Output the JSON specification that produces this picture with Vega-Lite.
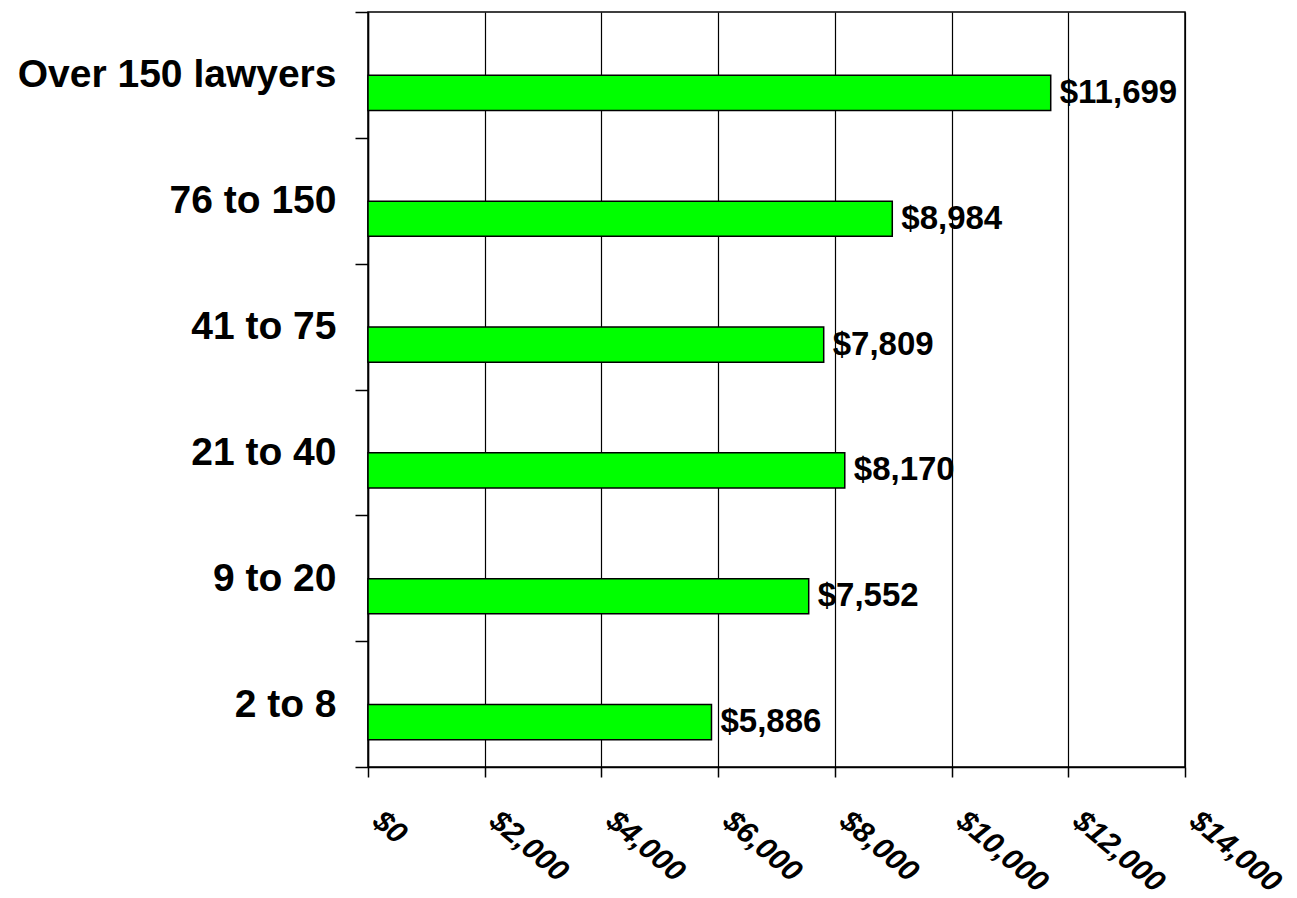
{
  "$schema": "https://vega.github.io/schema/vega-lite/v6.json",
  "autosize": "none",
  "width": 817,
  "height": 755,
  "padding": {"left": 368, "top": 12, "right": 112, "bottom": 131},
  "background": "white",
  "config": {
    "view": {"stroke": "black", "strokeWidth": 1.5},
    "font": "Liberation Sans"
  },
  "data": {
    "values": [
      {"size": "Over 150 lawyers", "cost": 11699, "label": "$11,699"},
      {"size": "76 to 150", "cost": 8984, "label": "$8,984"},
      {"size": "41 to 75", "cost": 7809, "label": "$7,809"},
      {"size": "21 to 40", "cost": 8170, "label": "$8,170"},
      {"size": "9 to 20", "cost": 7552, "label": "$7,552"},
      {"size": "2 to 8", "cost": 5886, "label": "$5,886"}
    ]
  },
  "encoding": {
    "y": {
      "field": "size",
      "type": "nominal",
      "sort": null,
      "scale": {"paddingInner": 0, "paddingOuter": 0},
      "axis": {
        "title": null,
        "tickBand": "extent",
        "tickSize": 13,
        "tickColor": "black",
        "tickWidth": 1.5,
        "domainColor": "black",
        "domainWidth": 1.5,
        "labelPadding": 19,
        "labelLimit": 0,
        "labelFont": "Liberation Sans",
        "labelFontSize": 39,
        "labelFontWeight": "bold",
        "labelColor": "black",
        "grid": false
      }
    },
    "x": {
      "field": "cost",
      "type": "quantitative",
      "scale": {"domain": [0, 14000], "nice": false},
      "axis": {
        "title": null,
        "values": [0, 2000, 4000, 6000, 8000, 10000, 12000, 14000],
        "format": "$,.0f",
        "grid": true,
        "gridColor": "black",
        "gridWidth": 1.2,
        "gridOpacity": 1,
        "tickSize": 10,
        "tickColor": "black",
        "tickWidth": 1.5,
        "domainColor": "black",
        "domainWidth": 1.5,
        "labelAngle": 40,
        "labelAlign": "left",
        "labelBaseline": "top",
        "labelPadding": 28,
        "labelOffset": 18,
        "labelLimit": 0,
        "labelFont": "Liberation Sans",
        "labelFontSize": 30,
        "labelFontWeight": "bold",
        "labelFontStyle": "italic",
        "labelColor": "black",
        "labelOverlap": false,
        "labelFlush": false,
        "labelBound": false
      }
    }
  },
  "layer": [
    {
      "mark": {
        "type": "bar",
        "fill": "#00FF00",
        "stroke": "black",
        "strokeWidth": 1.5,
        "height": {"band": 0.28},
        "yOffset": 18
      }
    },
    {
      "mark": {
        "type": "text",
        "align": "left",
        "baseline": "middle",
        "dx": 9,
        "yOffset": 18,
        "font": "Liberation Sans",
        "fontSize": 33,
        "fontWeight": "bold",
        "color": "black"
      },
      "encoding": {"text": {"field": "label"}}
    }
  ]
}
